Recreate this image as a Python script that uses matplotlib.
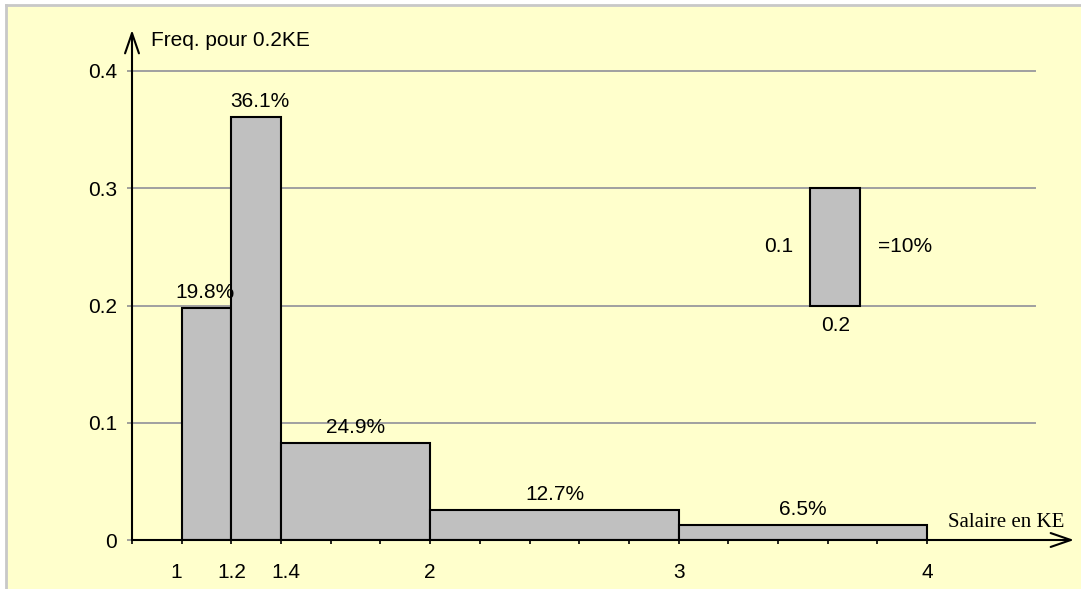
import numpy as np
import matplotlib.pyplot as plt
from matplotlib.patches import Rectangle
from matplotlib.lines import Line2D

# classes de salaire (KE) et fréquences
bornes = [1, 1.2, 1.4, 2, 3, 4]
freq_pct = [19.8, 36.1, 24.9, 12.7, 6.5]
y_ticks = [0, 0.1, 0.2, 0.3, 0.4]
x_labels = ['1', '1.2', '1.4', '2', '3', '4']
x_label_pos = [1, 1.2, 1.4, 2, 3, 4]

# pavé d'échelle : 0.2 KE x 0.1 = 10%
ech_x, ech_larg, ech_bas, ech_haut = 3.53, 0.2, 0.2, 0.1

W, H = 1081, 589
JAUNE = '#FFFFCC'
GRIS = '#C0C0C0'
sans = ['Liberation Sans', 'DejaVu Sans']
fs = 15

largeurs = np.diff(bornes)
# hauteur = fréquence ramenée à un intervalle de 0.2 KE
hauteurs = np.array(freq_pct) / 100 / (largeurs / 0.2)

fig = plt.figure(figsize=(W / 100, H / 100), dpi=100, facecolor='white')
fig.patches.append(Rectangle((6 / W, 0), 1, (H - 5) / H, transform=fig.transFigure,
                             facecolor=JAUNE, edgecolor='none', zorder=-10))
fig.lines.append(Line2D([6 / W, 1], [(H - 5) / H] * 2, transform=fig.transFigure,
                        color='#C8C8C8', lw=2, zorder=-5))
fig.lines.append(Line2D([6 / W] * 2, [0, (H - 5) / H], transform=fig.transFigure,
                        color='#C8C8C8', lw=2, zorder=-5))

ax = fig.add_axes([132 / W, (H - 540) / H, (1080 - 132) / W, (540 - 10) / H])
ax.set_facecolor('none')
ax.set_xlim(0.8, 0.8 + (1080 - 132) / 248.5)
ax.set_ylim(0, (540 - 10) / 1172.5)
for s in ax.spines.values():
    s.set_visible(False)

# quadrillage horizontal
for y in y_ticks[1:]:
    ax.plot([0.8, 4.434], [y, y], color='#A0A0A0', lw=1.4, zorder=1)

ax.bar(bornes[:-1], hauteurs, width=largeurs, align='edge', color=GRIS,
       edgecolor='black', linewidth=1.5, zorder=3)

decal = [-2, 4, 0, 0, 0]
for x0, w, h, p, dx in zip(bornes[:-1], largeurs, hauteurs, freq_pct, decal):
    ax.annotate(f'{p}%', xy=(x0 + w / 2, h), xytext=(dx, 6), textcoords='offset pixels',
                ha='center', va='bottom', fontsize=fs, family=sans, zorder=4)

# axes fléchés
fleche = dict(arrowstyle='->,head_length=1.45,head_width=0.5', mutation_scale=10,
              lw=1.5, color='black', shrinkA=0, shrinkB=0)
ax.annotate('', xy=(0.8 + (1074 - 132) / 248.5, 0), xytext=(0.8, 0),
            arrowprops=fleche, annotation_clip=False, zorder=5)
ax.annotate('', xy=(0.8, (540 - 30) / 1172.5), xytext=(0.8, 0),
            arrowprops=fleche, annotation_clip=False, zorder=5)

ax.set_xticks(np.arange(0.8, 4.01, 0.2))
ax.set_xticklabels([])
ax.tick_params(axis='x', direction='out', length=3, width=1.2, color='black')
ax.set_yticks(y_ticks)
ax.set_yticklabels([f'{v:g}' for v in y_ticks], fontsize=fs, family=sans)
ax.tick_params(axis='y', direction='out', length=3.6, width=1.2, color='#909090', pad=7)

dx_lab = [-6, 0, 5, 0, 0, 0]
for lab, x, dx in zip(x_labels, x_label_pos, dx_lab):
    ax.annotate(lab, xy=(x, 0), xytext=(dx, -32), textcoords='offset pixels',
                ha='center', va='center', fontsize=fs, family=sans)

ax.annotate('Freq. pour 0.2KE', xy=(0.8, (540 - 40) / 1172.5), xytext=(19, 0),
            textcoords='offset pixels', ha='left', va='center', fontsize=fs, family=sans,
            annotation_clip=False)
ax.annotate('Salaire en KE', xy=(0.8 + (948 - 132) / 248.5, 0), xytext=(0, 8),
            textcoords='offset pixels', ha='left', va='bottom', fontsize=15,
            family=['Liberation Serif', 'DejaVu Serif'])

# pavé d'échelle
ax.add_patch(Rectangle((ech_x, ech_bas), ech_larg, ech_haut, facecolor=GRIS,
                       edgecolor='black', linewidth=1.5, zorder=3))
ax.annotate('0.1', xy=(ech_x, ech_bas + ech_haut / 2), xytext=(-17, 0),
            textcoords='offset pixels', ha='right', va='center', fontsize=fs, family=sans)
ax.annotate('=10%', xy=(ech_x + ech_larg, ech_bas + ech_haut / 2), xytext=(18, 0),
            textcoords='offset pixels', ha='left', va='center', fontsize=fs, family=sans)
ax.annotate('0.2', xy=(ech_x + ech_larg / 2, ech_bas), xytext=(0, -20),
            textcoords='offset pixels', ha='center', va='center', fontsize=fs, family=sans)

fig.savefig('out.png', dpi=100, facecolor=fig.get_facecolor())
